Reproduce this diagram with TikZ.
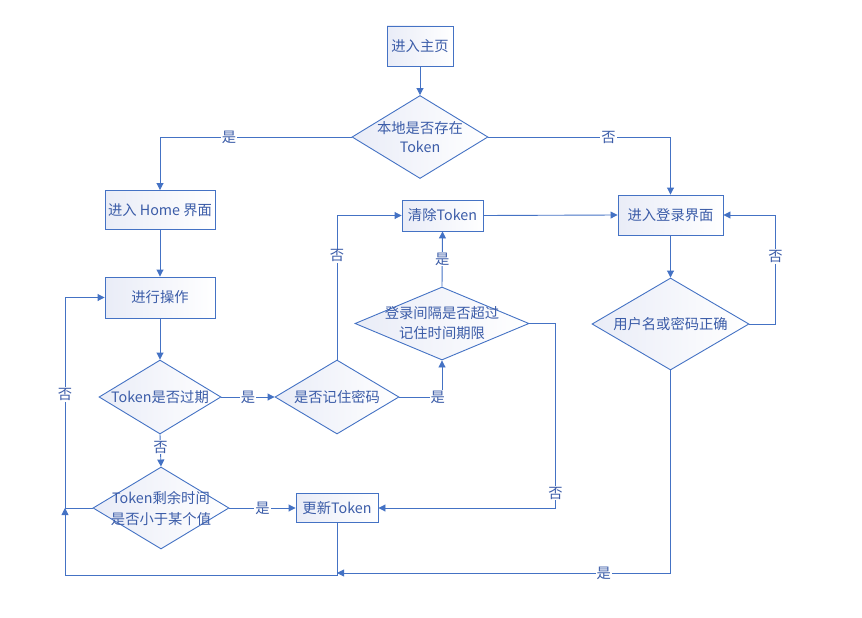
\documentclass[tikz,border=0pt]{standalone}
\usepackage{fontspec}
\setmainfont{Noto Sans CJK SC}
\usetikzlibrary{arrows.meta,shapes.geometric}
\definecolor{ln}{HTML}{4472C4}
\definecolor{tx}{HTML}{3B5CA8}
\definecolor{fl}{HTML}{E9ECF7}
\begin{document}
\begin{tikzpicture}[x=1pt,y=-1pt,
  every node/.style={text=tx,font=\fontsize{14.3}{19}\selectfont},
  box/.style={rectangle,draw=ln,line width=0.9pt,left color=fl,right color=white,inner sep=0pt},
  dia/.style={diamond,draw=ln,line width=0.9pt,left color=fl,right color=white,inner sep=0pt},
  arr/.style={draw=ln,line width=0.9pt,-{Triangle[length=7pt,width=7pt]}},
  lin/.style={draw=ln,line width=0.9pt},
  lab/.style={fill=white,inner sep=1pt}]
\path[use as bounding box] (0,0) rectangle (862,618);
% nodes
\node[box,minimum width=66,minimum height=40] (home) at (420,46) {进入主页};
\node[dia,minimum width=136,minimum height=83] (d1) at (420,137) {};
\node[align=center] (t1) at (d1.center) {本地是否存在\\Token};
\node[box,minimum width=110,minimum height=39] (hm) at (160,210) {进入 Home 界面};
\node[box,minimum width=110,minimum height=41] (op) at (160,297.5) {进行操作};
\node[dia,minimum width=122,minimum height=74] (d2) at (160,397) {};
\node (t2) at (d2.center) {Token是否过期};
\node[dia,minimum width=136,minimum height=82] (d3) at (161,508) {};
\node[align=center,font=\fontsize{14.3}{21}\selectfont] (t3) at (d3.center) {Token剩余时间\\是否小于某个值};
\node[dia,minimum width=124,minimum height=74] (d4) at (337,397) {};
\node (t4) at (d4.center) {是否记住密码};
\node[box,minimum width=81,minimum height=31] (clr) at (442.5,215.5) {清除Token};
\node[dia,minimum width=174,minimum height=73] (d5) at (442,323.5) {};
\node[align=center,font=\fontsize{14.3}{20}\selectfont] (t5) at (d5.center) {登录间隔是否超过\\记住时间期限};
\node[box,minimum width=82,minimum height=29] (upd) at (337,508) {更新Token};
\node[box,minimum width=105,minimum height=40] (login) at (670.5,215) {进入登录界面};
\node[dia,minimum width=157,minimum height=92] (d6) at (670.5,324) {};
\node (t6) at (d6.center) {用户名或密码正确};
\coordinate (j) at (65,508);
\coordinate (b) at (65,575);
\coordinate (m1) at (337,573);
% connectors
\draw[arr] (home.south) -- (d1.north);
\draw[arr] (d1.west) -| node[lab,pos=0.32]{是} (hm.north);
\draw[arr] (d1.east) -| node[lab,pos=0.33]{否} (login.north);
\draw[arr] (hm.south) -- (op.north);
\draw[arr] (op.south) -- (d2.north);
\draw[arr] (d2.south) -- node[lab,pos=0.4]{否} (d3.north);
\draw[arr] (d2.east) -- node[lab]{是} (d4.west);
\draw[arr] (d3.east) -- node[lab]{是} (upd.west);
\draw[arr] (d4.north) |- node[lab,pos=0.36]{否} (clr.west);
\draw[arr] (d4.east) -| node[lab,pos=0.45]{是} (d5.south);
\draw[arr] (d5.north) -- node[lab]{是} (clr.south);
\draw[arr] (d5.east) -- ++(26,0) |- node[lab,pos=0.46]{否} (upd.east);
\draw[arr] (clr.east) -- (login.west);
\draw[arr] (login.south) -- (d6.north);
\draw[arr] (d6.east) -- ++(26,0) |- node[lab,pos=0.31]{否} (login.east);
\draw[arr] (d6.south) |- node[lab,pos=0.6]{是} (m1);
\draw[arr] (d3.west) -- (j) |- node[lab,pos=0.27]{否} (op.west);
\draw[arr] (upd.south) |- (b) -- (j);
\end{tikzpicture}
\end{document}
